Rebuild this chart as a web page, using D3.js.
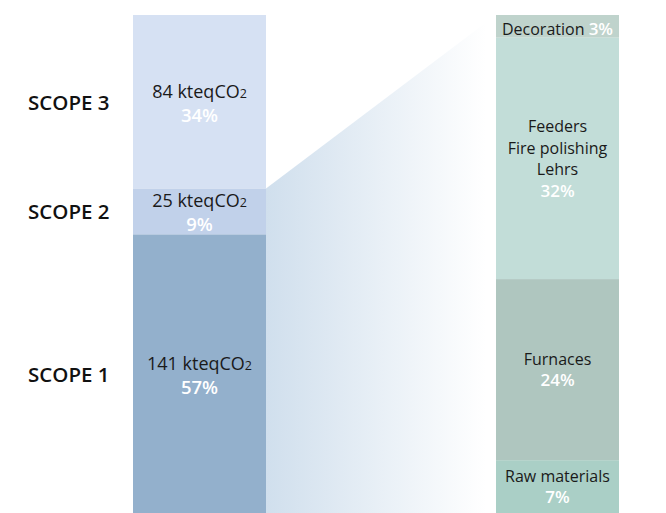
<!DOCTYPE html>
<html>
<head>
  <meta charset="utf-8">
  <title>CO2 emissions by scope</title>
  <script src="https://d3js.org/d3.v7.min.js"></script>
  <style>
    body {
      margin: 0;
      background-color: #fff;
      font-family: "Open Sans", Lato, sans-serif;
    }
    .label { fill: #1a1a1a; }
    .pct { fill: #fff; font-weight: 600; }
    .scope { fill: #111; font-weight: 600; font-size: 20.5px; }
  </style>
</head>
<body>
  <div id="chart"></div>

  <script>
    // **1. Data**
    const scopes = ["SCOPE 1", "SCOPE 2", "SCOPE 3"];
    const scopeValues = [141, 25, 84];       // kteqCO2
    const scopePercents = [57, 9, 34];
    const scopeColors = ["#93b0cc", "#c1d1ea", "#d6e1f3"];

    const processes = ["Raw materials", "Furnaces", "Feeders\nFire polishing\nLehrs", "Decoration"];
    const processPercents = [7, 24, 32, 3];
    const processColors = ["#aacfc6", "#afc6bf", "#c2ddd8", "#bfd3cc"];

    // **2. Dimensions**
    const width = 666;
    const height = 513;
    const barTop = 15;
    const leftBar = { x0: 133, x1: 266, bottom: 525 };   // runs off the bottom edge
    const rightBar = { x0: 496, x1: 619, bottom: 513 };

    const svg = d3.select("#chart")
      .append("svg")
      .attr("width", width)
      .attr("height", height);

    // **3. Scales**
    const yLeft = d3.scaleLinear()
      .domain([0, d3.sum(scopePercents)])
      .range([leftBar.bottom, barTop]);

    const yRight = d3.scaleLinear()
      .domain([0, d3.sum(processPercents)])
      .range([rightBar.bottom, barTop]);

    // stack helper
    function stackUp(values) {
      let acc = 0;
      return values.map(v => { const s = { y0: acc, y1: acc + v }; acc += v; return s; });
    }
    const leftStack = stackUp(scopePercents);
    const rightStack = stackUp(processPercents);

    // visible middle of a segment
    const mid = (a, b) => (Math.min(a, height) + Math.min(b, height)) / 2;

    // **4. Wedge with gradient**
    const grad = svg.append("defs").append("linearGradient")
      .attr("id", "fade")
      .attr("gradientUnits", "userSpaceOnUse")
      .attr("x1", leftBar.x1).attr("x2", rightBar.x0 - 10)
      .attr("y1", 0).attr("y2", 0);
    grad.append("stop").attr("offset", "0%").attr("stop-color", "#d0dfed");
    grad.append("stop").attr("offset", "100%").attr("stop-color", "#ffffff");

    const s12 = scopePercents[0] + scopePercents[1];
    svg.append("path")
      .attr("d", d3.line()([
        [leftBar.x1, yLeft(s12)],
        [rightBar.x0, yRight(d3.sum(processPercents))],
        [rightBar.x0, yRight(0)],
        [leftBar.x1, yLeft(0)]
      ]) + "Z")
      .attr("fill", "url(#fade)");

    // **5. Left bar**
    svg.selectAll(".scopeRect")
      .data(leftStack)
      .enter().append("rect")
      .attr("class", "scopeRect")
      .attr("x", leftBar.x0)
      .attr("width", leftBar.x1 - leftBar.x0)
      .attr("y", d => yLeft(d.y1))
      .attr("height", d => yLeft(d.y0) - yLeft(d.y1))
      .attr("fill", (d, i) => scopeColors[i]);

    const lcx = (leftBar.x0 + leftBar.x1) / 2;
    leftStack.forEach((d, i) => {
      const cy = mid(yLeft(d.y0), yLeft(d.y1));
      const t = svg.append("text")
        .attr("class", "label")
        .attr("x", lcx)
        .attr("y", cy - 4)
        .attr("text-anchor", "middle")
        .style("font-size", "18px");
      t.append("tspan").text(scopeValues[i] + " kteqCO");
      t.append("tspan").style("font-size", "12.5px").text("2");

      svg.append("text")
        .attr("class", "pct")
        .attr("x", lcx)
        .attr("y", cy + 20)
        .attr("text-anchor", "middle")
        .style("font-size", "18.5px")
        .text(scopePercents[i] + "%");

      svg.append("text")
        .attr("class", "scope")
        .attr("x", 28)
        .attr("y", cy + 8)
        .text(scopes[i]);
    });

    // **6. Right bar**
    svg.selectAll(".procRect")
      .data(rightStack)
      .enter().append("rect")
      .attr("class", "procRect")
      .attr("x", rightBar.x0)
      .attr("width", rightBar.x1 - rightBar.x0)
      .attr("y", d => yRight(d.y1))
      .attr("height", d => yRight(d.y0) - yRight(d.y1))
      .attr("fill", (d, i) => processColors[i]);

    const rcx = (rightBar.x0 + rightBar.x1) / 2;
    const lh = 21.5;
    rightStack.forEach((d, i) => {
      const cy = mid(yRight(d.y0), yRight(d.y1));
      const lines = processes[i].split("\n");
      if (processPercents[i] < 5) {
        // thin segment: label and percent on one line
        const t = svg.append("text")
          .attr("x", rcx)
          .attr("y", cy + 9)
          .attr("text-anchor", "middle")
          .style("font-size", "16px");
        t.append("tspan").attr("class", "label").text(lines[0] + " ");
        t.append("tspan").attr("class", "pct").style("font-size", "17px").text(processPercents[i] + "%");
        return;
      }
      const n = lines.length + 1;
      const y0 = cy - (n - 1) * lh / 2 + 6;
      lines.forEach((ln, j) => {
        svg.append("text")
          .attr("class", "label")
          .attr("x", rcx)
          .attr("y", y0 + j * lh)
          .attr("text-anchor", "middle")
          .style("font-size", "16px")
          .text(ln);
      });
      svg.append("text")
        .attr("class", "pct")
        .attr("x", rcx)
        .attr("y", y0 + lines.length * lh)
        .attr("text-anchor", "middle")
        .style("font-size", "17px")
        .text(processPercents[i] + "%");
    });
  </script>
</body>
</html>
